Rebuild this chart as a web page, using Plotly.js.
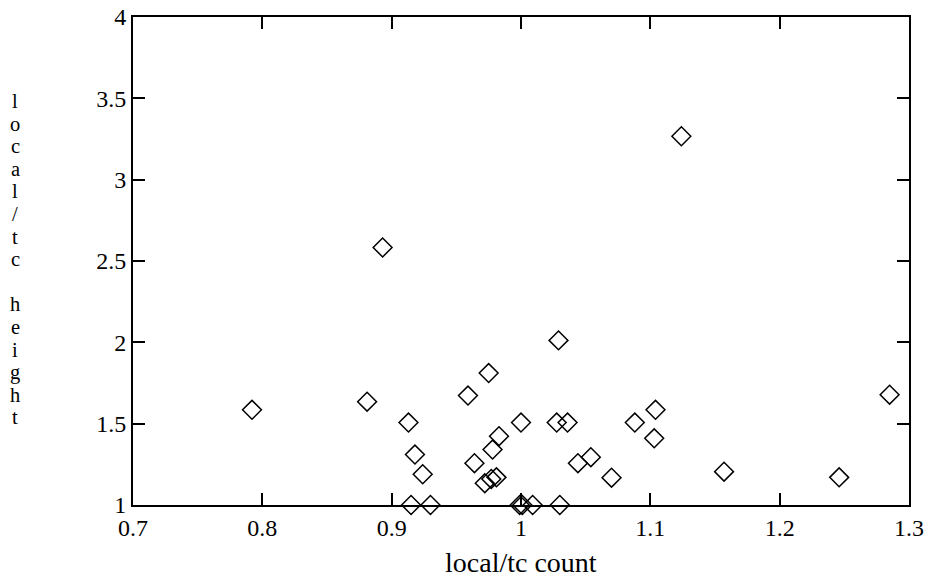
<!DOCTYPE html>
<html>
<head>
<meta charset="utf-8">
<script src="https://cdn.plot.ly/plotly-3.0.1.min.js"></script>
<style>html,body{margin:0;padding:0;background:#fff;}#chart{width:933px;height:578px;}</style>
</head>
<body>
<div id="chart"></div>
<script>
var xCount = [0.792, 0.881, 0.893, 0.913, 0.918, 0.924, 0.915, 0.930, 0.959, 0.975, 0.964, 0.972, 0.977, 0.981, 0.978, 0.983, 1.000, 0.999, 1.001, 1.009, 1.029, 1.0276, 1.036, 1.030, 1.044, 1.054, 1.070, 1.088, 1.104, 1.103, 1.124, 1.157, 1.246, 1.285];
var yHeight = [1.585, 1.635, 2.583, 1.507, 1.310, 1.189, 1.000, 1.000, 1.673, 1.811, 1.257, 1.134, 1.160, 1.170, 1.341, 1.423, 1.507, 1.000, 1.000, 1.000, 2.012, 1.507, 1.507, 1.000, 1.257, 1.294, 1.168, 1.507, 1.585, 1.410, 3.267, 1.205, 1.170, 1.678];
var xTickVals = [0.7, 0.8, 0.9, 1.0, 1.1, 1.2, 1.3];
var xTickText = ['0.7', '0.8', '0.9', '1', '1.1', '1.2', '1.3'];
var yTickVals = [1, 1.5, 2, 2.5, 3, 3.5, 4];
var yTickText = ['1', '1.5', '2', '2.5', '3', '3.5', '4'];
var yTitleChars = ['l','o','c','a','l','/','t','c','','h','e','i','g','h','t'];
var xTitle = 'local/tc count';

var FONT = "Liberation Serif";
var fs = 24;

var annotations = [];
var top0 = 101, pitch = 22.6;
yTitleChars.forEach(function(ch, k){
  if (!ch) return;
  var ypx = top0 + pitch * k;
  annotations.push({xref:'paper', yref:'paper', x:(15-133)/776, y:(505-ypx)/488,
    text: ch, showarrow:false, xanchor:'center', yanchor:'middle', borderpad:0,
    font:{family:FONT, size:20.5, color:'#000'}});
});
annotations.push({xref:'paper', yref:'paper', x:0.5, y:(505-562)/488,
  text: xTitle, showarrow:false, xanchor:'center', yanchor:'middle',
  font:{family:FONT, size:28, color:'#000'}});

function makeAxis(range, vals, text) {
  return {
    range: range, tickmode:'array', tickvals: vals, ticktext: text,
    showline:true, linecolor:'#000', linewidth:2, mirror:'allticks',
    ticks:'inside', ticklen:12, tickwidth:2, tickcolor:'#000',
    showgrid:false, zeroline:false, automargin:false,
    tickfont:{family:FONT, size:fs, color:'#000'}
  };
}

var layout = {
  width:933, height:578,
  margin:{l:133, r:24, t:17, b:73, pad:0},
  paper_bgcolor:'#fff', plot_bgcolor:'#fff',
  showlegend:false,
  font:{family:FONT, size:fs, color:'#000'},
  xaxis: makeAxis([0.7,1.3], xTickVals, xTickText),
  yaxis: makeAxis([1,4], yTickVals, yTickText),
  annotations: annotations
};

var trace = {
  x: xCount, y: yHeight, type:'scatter', mode:'markers', cliponaxis:false,
  marker:{symbol:'diamond-open', size:14.5, color:'#000', line:{width:1.5, color:'#000'}}
};

Plotly.newPlot('chart', [trace], layout, {displayModeBar:false, staticPlot:true});
</script>
</body>
</html>
